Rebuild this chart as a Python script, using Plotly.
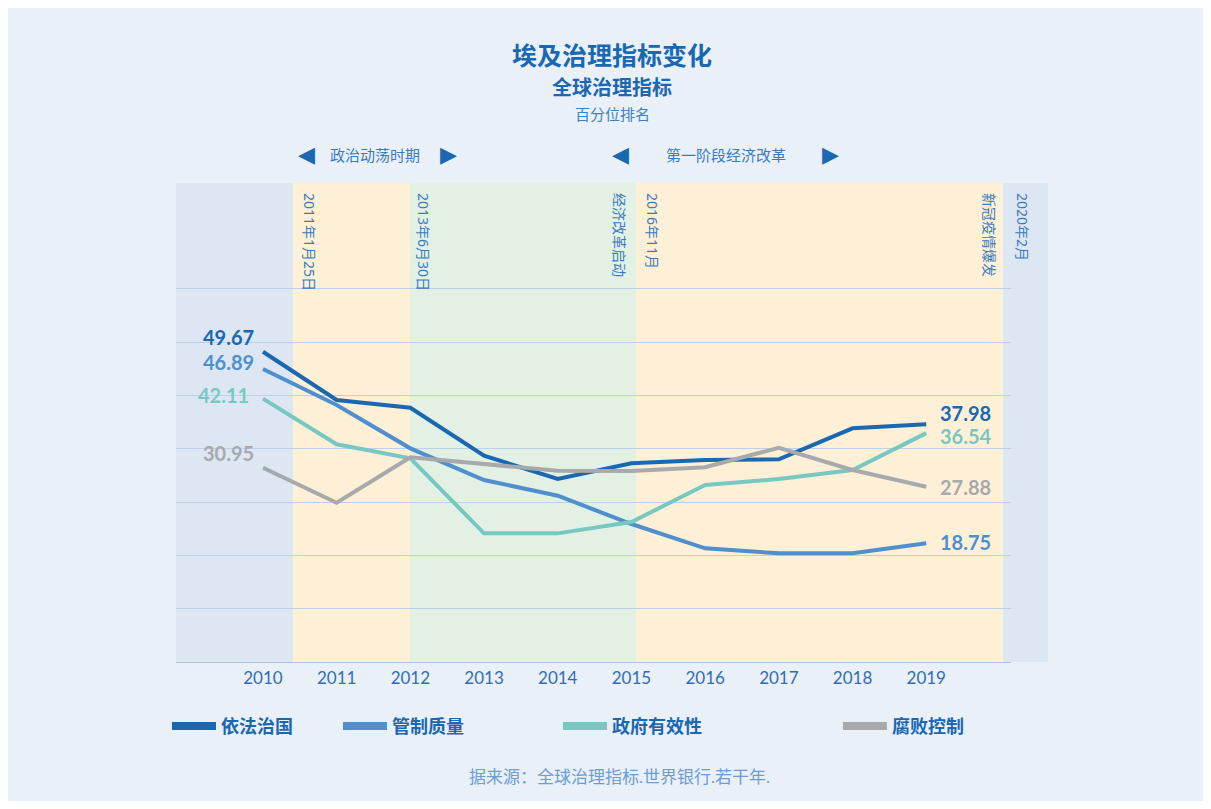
import plotly.graph_objects as go

# ---------------- data ----------------
years = [2010, 2011, 2012, 2013, 2014, 2015, 2016, 2017, 2018, 2019]
series_names = ["依法治国", "管制质量", "政府有效性", "腐败控制"]
rule_of_law = [49.67, 41.88, 40.63, 32.89, 29.13, 31.66, 32.19, 32.31, 37.31, 37.98]
regulatory_quality = [46.89, 41.07, 34.08, 28.97, 26.43, 21.87, 17.94, 17.14, 17.14, 18.75]
gov_effectiveness = [42.11, 34.73, 32.47, 20.36, 20.36, 22.20, 28.16, 29.13, 30.58, 36.54]
corruption_control = [30.95, 25.30, 32.63, 31.55, 30.47, 30.42, 31.02, 34.18, 30.58, 27.88]

event_labels = ["2011年1月25日", "2013年6月30日", "经济改革启动", "2016年11月", "新冠疫情爆发", "2020年2月"]
period_labels = ["政治动荡时期", "第一阶段经济改革"]
title_text = "埃及治理指标变化"
subtitle_text = "全球治理指标"
subsubtitle_text = "百分位排名"
source_text = "据来源：全球治理指标.世界银行.若干年."

# ---------------- style ----------------
FONT = "Lato, 'Noto Sans CJK SC', sans-serif"
FONT2 = "'Noto Sans', 'Noto Sans CJK SC', sans-serif"
colors = ["#1a67b2", "#4f8fce", "#77c8c1", "#a8a9ad"]
all_series = [rule_of_law, regulatory_quality, gov_effectiveness, corruption_control]
card_bg = "#e9f0f8"
band_blue = "#dde7f4"
band_orange = "#fef0d6"
band_green = "#e3f1e5"
grid_col = "#bdd0ea"

fig = go.Figure()

for name, vals, col in zip(series_names, all_series, colors):
    fig.add_trace(go.Scatter(x=years, y=vals, mode="lines", name=name,
                             line=dict(color=col, width=4), showlegend=False,
                             hoverinfo="x+y+name"))

# legend-only entries (thick swatches), each in its own legend for placement
legend_ids = ["legend", "legend2", "legend3", "legend4"]
for name, col, lid in zip(series_names, colors, legend_ids):
    fig.add_trace(go.Scatter(x=[None], y=[None], mode="lines", name=name,
                             line=dict(color=col, width=8), legend=lid, showlegend=True))

# background bands (paper coords)
bands = [(0.0, 0.1401, band_blue), (0.1401, 0.2802, band_orange),
         (0.2802, 0.5509, band_green), (0.5509, 0.9904, band_orange),
         (0.9904, 1.0443, band_blue)]
shapes = []
for x0, x1, c in bands:
    shapes.append(dict(type="rect", xref="paper", yref="paper", x0=x0, x1=x1, y0=0, y1=1,
                       fillcolor=c, line=dict(width=0), layer="below"))

annotations = []
# event (vertical) labels
event_x = [0.1605, 0.2970, 0.5317, 0.5713, 0.9749, 1.0144]
for t, xp in zip(event_labels, event_x):
    annotations.append(dict(text=t, x=xp, y=1, xref="paper", yref="paper",
                            xanchor="center", yanchor="top", yshift=-8, textangle=90,
                            showarrow=False, font=dict(family=FONT2, size=14, color="#3a7bc0")))

# period labels with triangles
period_x = [0.2383, 0.6587]
tri_left = [0.1557, 0.5329]
tri_right = [0.3269, 0.7844]
for t, xp, tl, tr in zip(period_labels, period_x, tri_left, tri_right):
    annotations.append(dict(text=t, x=xp, y=1.0585, xref="paper", yref="paper",
                            xanchor="center", yanchor="middle", showarrow=False,
                            font=dict(family=FONT, size=15, color="#3a7bc0")))
    annotations.append(dict(text="◀", x=tl, y=1.0585, xref="paper", yref="paper",
                            xanchor="center", yanchor="middle", showarrow=False,
                            font=dict(family="DejaVu Sans", size=22, color="#1a67b2")))
    annotations.append(dict(text="▶", x=tr, y=1.0585, xref="paper", yref="paper",
                            xanchor="center", yanchor="middle", showarrow=False,
                            font=dict(family="DejaVu Sans", size=22, color="#1a67b2")))

# titles
annotations.append(dict(text=f"<b>{title_text}</b>", x=0.5222, y=1.2672, xref="paper", yref="paper",
                        xanchor="center", yanchor="middle", showarrow=False,
                        font=dict(family=FONT, size=25, color="#1a67b2")))
annotations.append(dict(text=f"<b>{subtitle_text}</b>", x=0.5222, y=1.2004, xref="paper", yref="paper",
                        xanchor="center", yanchor="middle", showarrow=False,
                        font=dict(family=FONT, size=20, color="#1a67b2")))
annotations.append(dict(text=subsubtitle_text, x=0.5222, y=1.1441, xref="paper", yref="paper",
                        xanchor="center", yanchor="middle", showarrow=False,
                        font=dict(family=FONT, size=15, color="#3f80c3")))
# source
annotations.append(dict(text=source_text, x=0.5317, y=-0.238, xref="paper", yref="paper",
                        xanchor="center", yanchor="middle", showarrow=False,
                        font=dict(family=FONT, size=17, color="#6d9dd3")))

# start / end value labels
left_shift = [(-7, 15), (-7, 7), (-12, 4), (-7, 15)]
right_shift = [(12, 11), (12, 1), (12, -3), (12, 0)]
for vals, col, (lx, ly), (rx, ry) in zip(all_series, colors, left_shift, right_shift):
    annotations.append(dict(text=f"<b>{vals[0]:.2f}</b>", x=years[0], y=vals[0], xref="x", yref="y",
                            xanchor="right", yanchor="middle", xshift=lx, yshift=ly, showarrow=False,
                            font=dict(family=FONT, size=20, color=col)))
    annotations.append(dict(text=f"<b>{vals[-1]:.2f}</b>", x=years[-1], y=vals[-1], xref="x", yref="y",
                            xanchor="left", yanchor="middle", xshift=rx, yshift=ry, showarrow=False,
                            font=dict(family=FONT, size=20, color=col)))

grid_vals = [8.2, 16.8, 25.4, 34.0, 42.6, 51.2, 59.8]

legend_common = dict(orientation="h", yanchor="middle", xanchor="left", y=-0.134,
                     bgcolor="rgba(0,0,0,0)", itemwidth=44, itemclick=False,
                     font=dict(family=FONT, size=18, color="#1a67b2", weight="bold"))
legend_x = [-0.0108, 0.194, 0.4575, 0.7928]

fig.update_layout(
    width=1195, height=793,
    margin=dict(l=168, r=192, t=175, b=139),
    paper_bgcolor=card_bg,
    plot_bgcolor="rgba(0,0,0,0)",
    shapes=shapes,
    annotations=annotations,
    xaxis=dict(range=[2008.82, 2020.15], tickvals=years, showgrid=False, zeroline=False,
               showline=True, linecolor="#aec6e6", linewidth=1, ticks="",
               tickfont=dict(family=FONT, size=17, color="#2f6eb5"), ticklabelstandoff=1),
    yaxis=dict(range=[-0.4, 76.9], tickvals=grid_vals, showticklabels=False, showgrid=True,
               gridcolor=grid_col, gridwidth=1, zeroline=False, showline=False),
    legend=dict(x=legend_x[0], **legend_common),
    legend2=dict(x=legend_x[1], **legend_common),
    legend3=dict(x=legend_x[2], **legend_common),
    legend4=dict(x=legend_x[3], **legend_common),
    hovermode="closest",
)

fig.write_html("out.html")
